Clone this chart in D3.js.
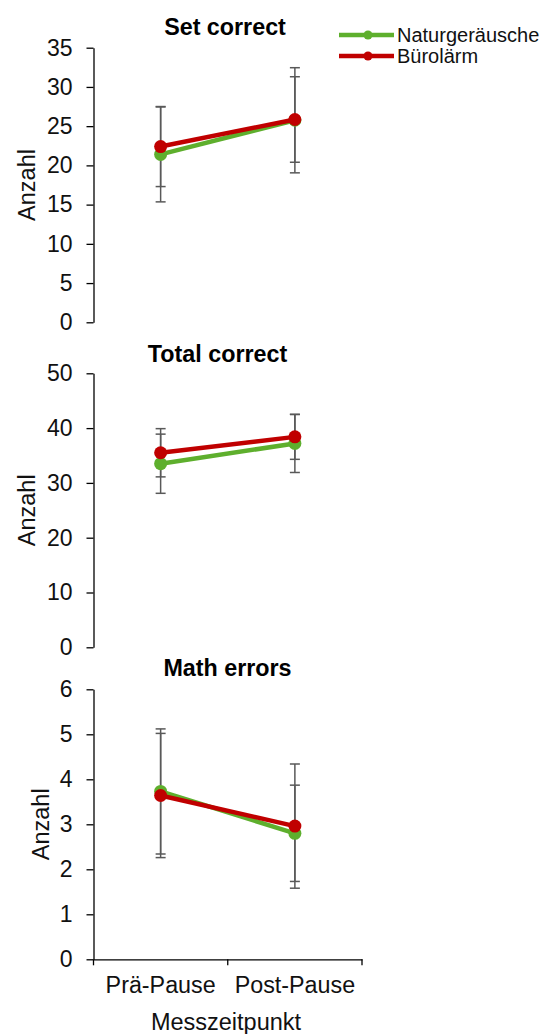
<!DOCTYPE html>
<html><head><meta charset="utf-8">
<script src="https://cdn.jsdelivr.net/npm/d3@7"></script>
<style>body{margin:0;background:#fff}svg{display:block;font-family:"Liberation Sans",Arial,sans-serif}</style>
</head><body>
<svg id="c" width="558" height="1034"></svg>
<script>
const categories = ["Prä-Pause", "Post-Pause"];
const seriesNames = ["Naturgeräusche", "Bürolärm"];
const panelTitles = ["Set correct", "Total correct", "Math errors"];
// means [series][category]
const setCorrectMeans = [[21.4, 25.75], [22.4, 25.85]];
const setCorrectErr = [[6.05, 6.7], [5.1, 5.45]];
const totalCorrectMeans = [[33.5, 37.2], [35.5, 38.4]];
const totalCorrectErr = [[5.4, 5.3], [4.4, 4.1]];
const mathErrorsMeans = [[3.73, 2.8], [3.64, 2.96]];
const mathErrorsErr = [[1.39, 1.07], [1.38, 1.38]];
const yMax = [35, 50, 6];
const yStep = [5, 10, 1];
const yAxisTitle = "Anzahl";
const xAxisTitle = "Messzeitpunkt";

const colors = ["#5EAF2D", "#C00000"];
const svg = d3.select("#c");
const axisX = 93.5, axisRight = 362;
const x = d3.scaleBand().domain(categories).range([axisX, axisRight]);
const panels = [
  {top: 47.7, bottom: 322.3, means: setCorrectMeans, err: setCorrectErr, tx: 225, ty: 35, lx: 27},
  {top: 373.3, bottom: 647.3, means: totalCorrectMeans, err: totalCorrectErr, tx: 217.5, ty: 361.5, lx: 27},
  {top: 689.3, bottom: 959.3, means: mathErrorsMeans, err: mathErrorsErr, tx: 227.5, ty: 676, lx: 41}
];

panels.forEach((p, pi) => {
  const y = d3.scaleLinear().domain([0, yMax[pi]]).range([p.bottom, p.top]);
  const ticks = d3.range(0, yMax[pi] + yStep[pi] / 2, yStep[pi]);
  const g = svg.append("g");
  const ax = g.append("g").attr("transform", `translate(${axisX},0)`)
    .call(d3.axisLeft(y).tickValues(ticks).tickSize(7).tickSizeOuter(0).tickPadding(14).tickFormat(d3.format("d")));
  ax.select(".domain").attr("stroke", "#000").attr("stroke-width", 1.3);
  ax.selectAll(".tick line").attr("stroke", "#000").attr("stroke-width", 1.3);
  ax.selectAll(".tick text").attr("font-size", 23).attr("fill", "#111").attr("font-family", "Liberation Sans, Arial, sans-serif");

  g.append("text").attr("x", p.tx).attr("y", p.ty).attr("text-anchor", "middle")
    .attr("font-weight", "bold").attr("font-size", 23.3).attr("fill", "#000").text(panelTitles[pi]);
  g.append("text").attr("transform", `translate(${p.lx},${(p.top + p.bottom) / 2}) rotate(-90)`)
    .attr("text-anchor", "middle").attr("dominant-baseline", "central")
    .attr("font-size", 23.5).attr("fill", "#111").text(yAxisTitle);

  const cx = c => x(c) + x.bandwidth() / 2;
  p.means.forEach((ms, si) => {
    ms.forEach((m, ci) => {
      const e = p.err[si][ci];
      const xc = cx(categories[ci]);
      const eg = g.append("g").attr("stroke", "#595959").attr("stroke-width", 1.5);
      eg.append("line").attr("x1", xc).attr("x2", xc).attr("y1", y(m - e)).attr("y2", y(m + e));
      [m - e, m + e].forEach(v => eg.append("line").attr("x1", xc - 5).attr("x2", xc + 5).attr("y1", y(v)).attr("y2", y(v)));
    });
  });
  const line = d3.line().x((d, i) => cx(categories[i])).y(d => y(d));
  p.means.forEach((ms, si) => {
    g.append("path").datum(ms).attr("d", line).attr("fill", "none")
      .attr("stroke", colors[si]).attr("stroke-width", 4.5);
    g.selectAll(null).data(ms).enter().append("circle")
      .attr("cx", (d, i) => cx(categories[i])).attr("cy", d => y(d)).attr("r", 6.5)
      .attr("fill", colors[si]);
  });

  if (pi === 2) {
    const xb = g.append("g").attr("transform", `translate(0,${p.bottom})`)
      .call(d3.axisBottom(x).tickSize(0).tickPadding(17));
    xb.select(".domain").attr("stroke", "#000").attr("stroke-width", 1.3);
    xb.selectAll(".tick text").attr("font-size", 23.3).attr("fill", "#111").attr("font-family", "Liberation Sans, Arial, sans-serif");
    const bounds = [axisX, ...categories.map(c => x(c) + x.bandwidth())];
    g.selectAll(null).data(bounds).enter().append("line")
      .attr("x1", d => d).attr("x2", d => d).attr("y1", p.bottom).attr("y2", p.bottom + 6)
      .attr("stroke", "#000").attr("stroke-width", 1.3);
    g.append("text").attr("x", 226).attr("y", 1030).attr("text-anchor", "middle")
      .attr("font-size", 23.5).attr("fill", "#111").text(xAxisTitle);
  }
});

// legend
const lg = svg.append("g");
seriesNames.forEach((n, i) => {
  const yy = 35 + i * 21;
  lg.append("line").attr("x1", 339).attr("x2", 394).attr("y1", yy).attr("y2", yy)
    .attr("stroke", colors[i]).attr("stroke-width", 4.5);
  lg.append("circle").attr("cx", 368).attr("cy", yy).attr("r", 4.5).attr("fill", colors[i]);
  lg.append("text").attr("x", 397).attr("y", yy + 7).attr("font-size", 20).attr("fill", "#111").text(n);
});
</script>
</body></html>
